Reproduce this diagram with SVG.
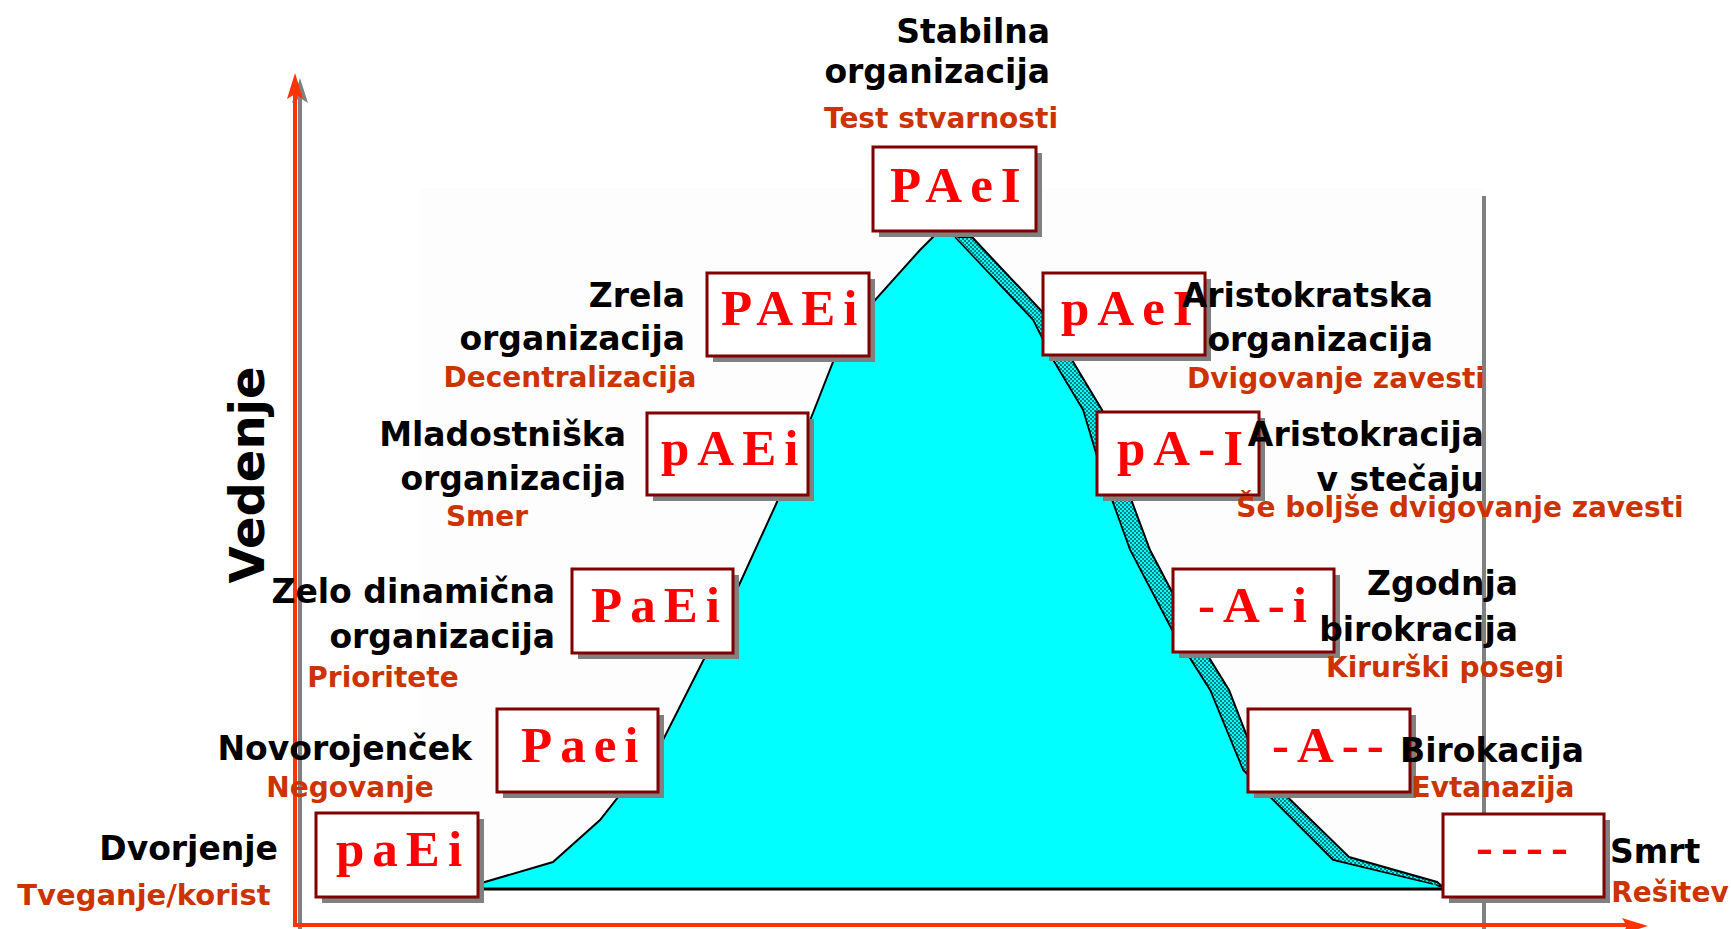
<svg xmlns="http://www.w3.org/2000/svg" width="1731" height="929" viewBox="0 0 1731 929">
  <defs>
    <style>
      .lbl { font-family: "DejaVu Sans", Verdana, sans-serif; font-weight: bold; font-size: 33px; fill: #000000; }
      .title { font-family: "DejaVu Sans", Verdana, sans-serif; font-weight: bold; font-size: 48px; fill: #000000; text-anchor: middle; }
      .sub { font-family: "DejaVu Sans", Verdana, sans-serif; font-weight: bold; font-size: 28px; fill: #CC3300; text-anchor: middle; }
      .end { text-anchor: end; }
      .code { font-family: "Liberation Serif", "Times New Roman", serif; font-weight: bold; font-size: 51px; fill: #FF0000; letter-spacing: 8px; }
      .box { fill: #FFFFFF; stroke: #800000; stroke-width: 3; }
      .shadow { fill: #808080; }
      .axis { stroke: #FF3300; stroke-width: 4; fill: none; }
      .axis-shadow { stroke: #808080; stroke-width: 4; fill: none; }
    </style>
    <pattern id="band" width="4" height="4" patternUnits="userSpaceOnUse">
      <rect width="4" height="4" fill="#00FFFF"/>
      <rect width="2" height="2" fill="#008080"/>
      <rect x="2" y="2" width="2" height="2" fill="#008080"/>
    </pattern>
  </defs>

  <rect width="1731" height="929" fill="#FFFFFF"/>
  <!-- plot area -->
  <rect x="420" y="188" width="1063" height="701" fill="#FDFDFD"/>

  <!-- reference line at the end of the cycle -->
  <line x1="1484" y1="196" x2="1484" y2="929" stroke="#808080" stroke-width="4"/>

  <!-- life-cycle curve -->
  <g id="curve">
    <polygon points="972,237 1050,320 1072,360 1102,410 1119,467 1150,550 1192,630 1229,690 1260,770 1349,857 1437,882 1443,887 1433,885 1333,860 1243,770 1210,690 1172,630 1130,550 1100,467 1083,410 1053,360 1033,320 955,237" fill="url(#band)" stroke="#000000" stroke-width="2"/>
    <polygon points="478,884 553,862 600,820 663,740 705,657 740,583 777,502 813,413 833,362 875,300 920,250 935,235 955,235 1033,320 1053,360 1083,410 1100,467 1130,550 1172,630 1210,690 1243,770 1333,860 1433,884 1443,889 478,889" fill="#00FFFF"/>
    <polyline points="478,884 553,862 600,820 663,740 705,657 740,583 777,502 813,413 833,362 875,300 920,250 935,235" fill="none" stroke="#000000" stroke-width="2"/>
    <polyline points="955,237 1033,320 1053,360 1083,410 1100,467 1130,550 1172,630 1210,690 1243,770 1333,860 1433,884" fill="none" stroke="#000000" stroke-width="1.5"/>
    <line x1="478" y1="889" x2="1443" y2="889" stroke="#000000" stroke-width="3"/>
  </g>

  <!-- axes -->
  <g id="axes">
    <line class="axis-shadow" x1="300" y1="95" x2="300" y2="929"/>
    <polygon points="300,78 308,103 300,98 292,103" fill="#808080"/>
    <line class="axis" x1="295" y1="90" x2="295" y2="925"/>
    <line class="axis" x1="293" y1="925" x2="1630" y2="925"/>
    <polygon points="295,73 303,99 295,94 287,99" fill="#FF3300"/>
    <polygon points="1648,926 1622,918 1627,926 1622,934" fill="#FF3300"/>
  </g>

  <text class="title" transform="translate(264,475) rotate(-90)">Vedenje</text>

  <!-- stages -->
  <g id="stabilna">
    <rect class="shadow" x="879" y="153" width="163" height="84"/>
    <rect class="box" x="873" y="147" width="163" height="84"/>
    <text class="code" x="890" y="202">PAeI</text>
    <text class="lbl end" x="1050" y="43">Stabilna</text>
    <text class="lbl end" x="1050" y="83">organizacija</text>
    <text class="sub" x="941" y="128">Test stvarnosti</text>
  </g>

  <g id="zrela">
    <rect class="shadow" x="713" y="279" width="162" height="83"/>
    <rect class="box" x="707" y="273" width="162" height="83"/>
    <text class="code" x="721" y="325">PAEi</text>
    <text class="lbl end" x="685" y="307">Zrela</text>
    <text class="lbl end" x="685" y="350">organizacija</text>
    <text class="sub" x="570" y="387">Decentralizacija</text>
  </g>

  <g id="mladostniska">
    <rect class="shadow" x="653" y="419" width="161" height="82"/>
    <rect class="box" x="647" y="413" width="161" height="82"/>
    <text class="code" x="661" y="465">pAEi</text>
    <text class="lbl end" x="626" y="446">Mladostniška</text>
    <text class="lbl end" x="626" y="490">organizacija</text>
    <text class="sub" x="487" y="526">Smer</text>
  </g>

  <g id="dinamicna">
    <rect class="shadow" x="578" y="575" width="161" height="84"/>
    <rect class="box" x="572" y="569" width="161" height="84"/>
    <text class="code" x="591" y="622">PaEi</text>
    <text class="lbl end" x="555" y="603">Zelo dinamična</text>
    <text class="lbl end" x="555" y="648">organizacija</text>
    <text class="sub" x="383" y="687">Prioritete</text>
  </g>

  <g id="novorojencek">
    <rect class="shadow" x="503" y="715" width="161" height="83"/>
    <rect class="box" x="497" y="709" width="161" height="83"/>
    <text class="code" x="521" y="762">Paei</text>
    <text class="lbl end" x="472" y="760">Novorojenček</text>
    <text class="sub" x="350" y="797">Negovanje</text>
  </g>

  <g id="dvorjenje">
    <rect class="shadow" x="322" y="819" width="162" height="84"/>
    <rect class="box" x="316" y="813" width="162" height="84"/>
    <text class="code" x="336" y="866">paEi</text>
    <text class="lbl end" x="278" y="860">Dvorjenje</text>
    <text class="sub" x="144" y="905" style="font-size:29px">Tveganje/korist</text>
  </g>

  <g id="aristokratska">
    <rect class="shadow" x="1049" y="279" width="162" height="82"/>
    <rect class="box" x="1043" y="273" width="162" height="82"/>
    <text class="code" x="1061" y="325">pAeI</text>
    <text class="lbl end" x="1433" y="307">Aristokratska</text>
    <text class="lbl end" x="1433" y="351">organizacija</text>
    <text class="sub" x="1336" y="388">Dvigovanje zavesti</text>
  </g>

  <g id="stecaj">
    <rect class="shadow" x="1103" y="418" width="162" height="83"/>
    <rect class="box" x="1097" y="412" width="162" height="83"/>
    <text class="code" x="1117" y="465">pA-I</text>
    <text class="lbl end" x="1484" y="446">Aristokracija</text>
    <text class="lbl end" x="1484" y="491">v stečaju</text>
    <text class="sub" x="1460" y="517">Še boljše dvigovanje zavesti</text>
  </g>

  <g id="zgodnja">
    <rect class="shadow" x="1179" y="575" width="161" height="83"/>
    <rect class="box" x="1173" y="569" width="161" height="83"/>
    <text class="code" x="1198" y="622">-A-i</text>
    <text class="lbl end" x="1518" y="595">Zgodnja</text>
    <text class="lbl end" x="1518" y="641">birokracija</text>
    <text class="sub" x="1445" y="677">Kirurški posegi</text>
  </g>

  <g id="birokracija">
    <rect class="shadow" x="1254" y="715" width="162" height="83"/>
    <rect class="box" x="1248" y="709" width="162" height="83"/>
    <text class="code" x="1272" y="762">-A--</text>
    <text class="lbl" x="1400" y="762">Birokacija</text>
    <text class="sub" x="1493" y="797">Evtanazija</text>
  </g>

  <g id="smrt">
    <rect class="shadow" x="1449" y="820" width="161" height="83"/>
    <rect class="box" x="1443" y="814" width="161" height="83"/>
    <text class="code" x="1476" y="864">----</text>
    <text class="lbl" x="1610" y="863">Smrt</text>
    <text class="sub" x="1670" y="902">Rešitev</text>
  </g>
</svg>
